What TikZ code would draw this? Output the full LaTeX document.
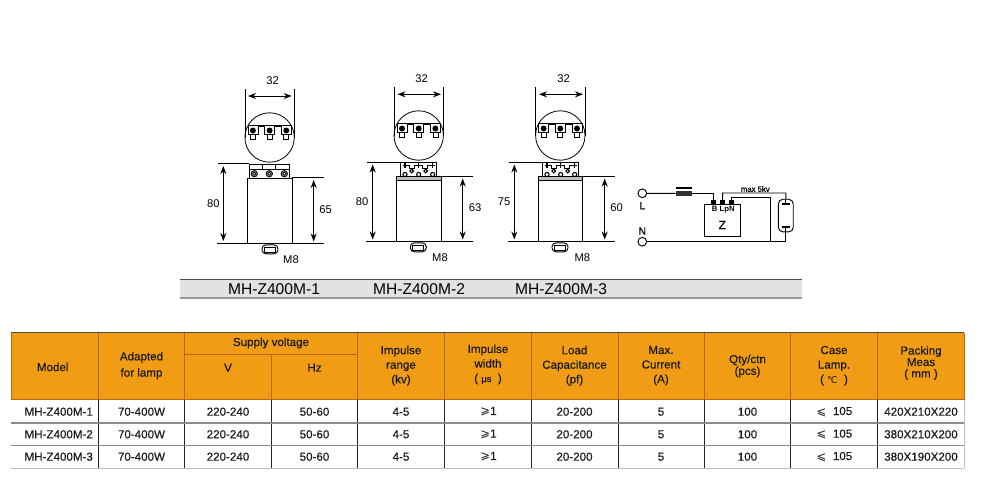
\documentclass[tikz,border=0pt]{standalone}
\usepackage{fontspec}
\setmainfont{Liberation Sans}
\newfontfamily\symfont{DejaVu Sans}
\newfontfamily\softfont[FakeBold=0.35]{Liberation Sans}
\usetikzlibrary{arrows.meta}
\definecolor{headorange}{HTML}{F09C14}
\definecolor{headline}{HTML}{B5690F}
\definecolor{bandgray}{HTML}{E2E2E2}
\definecolor{rowline}{HTML}{8C8C8C}
\tikzset{
  dimline/.style={line width=0.75pt,<->,>={Stealth[length=6pt,width=4.5pt]}},
  extline/.style={line width=0.7pt},
  wire/.style={line width=0.7pt},
  dimtext/.style={font=\fontsize{8.4pt}{10pt}\selectfont,inner sep=0pt},
  bandtext/.style={font=\fontsize{11.7pt}{13pt}\selectfont,inner sep=0pt},
  cell/.style={font=\softfont\fontsize{8.7pt}{10.6pt}\selectfont,align=center,inner sep=0pt,text=black!90},
  headtext/.style={cell,font=\softfont\fontsize{8.7pt}{10.9pt}\selectfont},
  terminal/.style={draw,fill=black,inner sep=0pt,minimum size=3pt},
  pics/lamphead/.style={code={
    \draw[line width=0.6pt] (0,0) circle [radius=24.7];
    \draw[line width=0.8pt] (-17,-11.5) -- (17,-11.5);
    \foreach \tx in {-16.7,0,16.7}{
      \draw[line width=0.6pt,fill=white] (\tx-5,-12) rectangle (\tx+5,-3);
      \fill (\tx,-7) circle [radius=3];
      \draw[line width=0.6pt,fill=white] (\tx-2.5,-3) rectangle (\tx+2.5,2);
    }
  }},
  pics/plaintop/.style={code={
    \draw[line width=0.7pt] (-20,0) rectangle (20,14);
    \draw[line width=0.7pt] (-20,5) -- (20,5);
    \foreach \tx in {-6.5,6.5} \draw[line width=0.6pt] (\tx,0) -- (\tx,5);
    \foreach \tx in {-15,0,15}{
      \draw[line width=0.6pt,fill=black!45] (\tx,9.7) circle [radius=3.2];
      \draw[line width=0.5pt,fill=white] (\tx,9.7) circle [radius=1.6];
    }
  }},
  pics/pcbtop/.style={code={
    \draw[line width=0.6pt] (-18,14) -- (-18,0) -- (18,0) -- (18,14);
    \draw[line width=0.7pt] (-14,3.5) -- (-9,3.5) -- (-9,6.5) -- (-4,6.5) -- (-4,3.5) -- (4,3.5) -- (4,6.5) -- (9,6.5) -- (9,3.5) -- (14,3.5);
    \foreach \tx in {-13.7,0,14}{
      \draw[line width=0.9pt] (\tx-2.2,3.5) -- (\tx+2.2,3.5) (\tx,1.3) -- (\tx,5.7);
      \draw[line width=0.8pt] (\tx,12.5) circle [radius=2.1];
    }
    \foreach \tx in {-7,7} \draw[line width=0.8pt] (\tx,9) circle [radius=1.8];
  }},
  pics/nut/.style={code={
    \draw[line width=0.7pt,rounded corners=3pt] (-8,-4.5) rectangle (8,4.5);
    \draw[line width=0.7pt] (-5.5,-2) rectangle (5.5,3);
  }},
}
\begin{document}
\begin{tikzpicture}[x=0.75pt,y=-0.75pt]
\useasboundingbox (0,0) rectangle (1000,500);

% first ignitor
\draw[wire] (245,89) -- (245,137.5) (294.2,89) -- (294.2,137.5);
\pic at (269.6,137.5) {lamphead};
\pic at (269.3,164) {plaintop};
\draw[wire] (247.5,178) rectangle (292,243.3);
\pic at (270,249.3) {nut};
\coordinate (w1l) at (248,96);
\coordinate (w1r) at (291.7,96);
\coordinate (t1a) at (218.3,163.8);
\coordinate (t1b) at (249.3,163.8);
\coordinate (b1a) at (217.3,243.3);
\coordinate (b1b) at (324,243.3);
\coordinate (m1a) at (292,177.7);
\coordinate (m1b) at (324,177.7);
\draw[extline] (t1a) -- (t1b);
\draw[extline] (b1a) -- (b1b);
\draw[extline] (m1a) -- (m1b);
\draw[dimline] (w1l) -- (w1r);
\draw[dimline] (223.3,166) -- (223.3,241);
\draw[dimline] (313.7,180) -- (313.7,241.5);
\node[dimtext] (w1) at (272.7,80.7) {32};
\node[dimtext] (h1) at (213.3,204) {80};
\node[dimtext] (k1) at (325.7,210) {65};
\node[dimtext] (m1) at (291,259.3) {M8};

% second ignitor
\draw[wire] (394,87) -- (394,135.5) (443.3,87) -- (443.3,135.5);
\pic at (418.7,135.5) {lamphead};
\draw[wire] (396.3,176) rectangle (441,241.7);
\draw[line width=0.6pt,fill=black!25] (396.3,176) rectangle (441,180.5);
\pic at (418.7,162) {pcbtop};
\pic at (418.3,247.3) {nut};
\coordinate (w2l) at (397.5,94.3);
\coordinate (w2r) at (441,94.3);
\coordinate (t2a) at (367.3,162);
\coordinate (t2b) at (400.7,162);
\coordinate (b2a) at (366,241.7);
\coordinate (b2b) at (472.7,241.7);
\coordinate (m2a) at (441,176);
\coordinate (m2b) at (472.7,176);
\draw[extline] (t2a) -- (t2b);
\draw[extline] (b2a) -- (b2b);
\draw[extline] (m2a) -- (m2b);
\draw[dimline] (w2l) -- (w2r);
\draw[dimline] (372.7,164.5) -- (372.7,239.5);
\draw[dimline] (462.7,178.5) -- (462.7,239.5);
\node[dimtext] (w2) at (421.7,79) {32};
\node[dimtext] (h2) at (362,201.7) {80};
\node[dimtext] (k2) at (475,208) {63};
\node[dimtext] (m2) at (440,257.3) {M8};

% third ignitor
\draw[wire] (535.7,87) -- (535.7,135.5) (585,87) -- (585,135.5);
\pic at (560.3,135.5) {lamphead};
\draw[wire] (538.3,176) rectangle (582.7,241.7);
\draw[line width=0.6pt,fill=black!25] (538.3,176) rectangle (582.7,180.5);
\pic at (560.7,162) {pcbtop};
\pic at (560,247.3) {nut};
\coordinate (w3l) at (539,94.3);
\coordinate (w3r) at (583,94.3);
\coordinate (t3a) at (509.3,162);
\coordinate (t3b) at (542.3,162);
\coordinate (b3a) at (508,241.7);
\coordinate (b3b) at (615,241.7);
\coordinate (m3a) at (582.7,176);
\coordinate (m3b) at (615,176);
\draw[extline] (t3a) -- (t3b);
\draw[extline] (b3a) -- (b3b);
\draw[extline] (m3a) -- (m3b);
\draw[dimline] (w3l) -- (w3r);
\draw[dimline] (514.3,164.5) -- (514.3,239.5);
\draw[dimline] (604.7,178.5) -- (604.7,239.5);
\node[dimtext] (w3) at (563.7,79) {32};
\node[dimtext] (h3) at (504,201.7) {75};
\node[dimtext] (k3) at (616.7,208) {60};
\node[dimtext] (m3) at (582.3,257.3) {M8};

% circuit
\node[draw,circle,line width=0.7pt,minimum size=6.5pt,inner sep=0pt] (lin) at (642.3,193.3) {};
\node[draw,circle,line width=0.7pt,minimum size=6.5pt,inner sep=0pt] (nin) at (642.3,241.7) {};
\node[fill=black!80,inner sep=0pt,minimum width=11.7pt,minimum height=3.2pt] (choke) at (683.8,193.5) {};
\coordinate (chokea) at (676,188);
\coordinate (chokeb) at (691.7,188);
\draw[line width=1pt] (chokea) -- (chokeb);
\node[draw,line width=0.7pt,inner sep=0pt,minimum width=27pt,minimum height=23.8pt] (zbox) at (722,220.2) {};
\node[terminal] (tb) at (713.3,202.5) {};
\node[terminal] (tlp) at (722.7,202.5) {};
\node[terminal] (tn) at (731.7,202.5) {};
\node[draw,line width=0.7pt,rounded corners=3.5pt,inner sep=0pt,minimum width=11.2pt,minimum height=24.5pt] (lamp) at (785.8,215.6) {};
\coordinate (nodea) at (770.7,241.7);
\draw[wire] (lin) -- (choke);
\draw[wire] (choke) -| (tb);
\draw[wire] (tlp) |- (786,193) -- (lamp.north);
\draw[wire] (tn) |- (770.7,197.3) -- (nodea);
\draw[wire] (nin) -- (lamp.south |- nin) -- (lamp.south);
\coordinate (ea) at (785.8,204);
\coordinate (eb) at (785.8,227);
\draw[wire] (lamp.north) -- (ea) (lamp.south) -- (eb);
\draw[line width=1pt] (781.5,204) -- (790,204) (781.5,227) -- (790,227);
\node[font=\fontsize{5.8pt}{7pt}\selectfont\bfseries,inner sep=0pt] (pins) at (723.3,209.5) {B\ LpN};
\node[font=\softfont\fontsize{9pt}{11pt}\selectfont,inner sep=0pt] (zlabel) at (722.3,225) {Z};
\node[font=\softfont\fontsize{7.7pt}{10pt}\selectfont,inner sep=0pt] (llabel) at (642.3,205.7) {L};
\node[font=\softfont\fontsize{7.7pt}{10pt}\selectfont,inner sep=0pt] (nlabel) at (642.3,231) {N};
\node[font=\softfont\fontsize{5.8pt}{7pt}\selectfont,inner sep=0pt] (maxv) at (755.3,189) {max 5kv};

% model band
\fill[bandgray] (180,279.5) rectangle (802,298);
\draw[line width=0.9pt,black!70] (180,279.5) -- (802,279.5);
\draw[line width=0.9pt,black!40] (180,298) -- (802,298);
\node[bandtext] (band1) at (274,289) {MH-Z400M-1};
\node[bandtext] (band2) at (419,289) {MH-Z400M-2};
\node[bandtext] (band3) at (561,289) {MH-Z400M-3};

% table
\fill[headorange] (11,332.5) rectangle (964,399.7);
\draw[line width=0.9pt,black!70] (11,332.5) -- (964,332.5);
\draw[line width=0.7pt,headline] (184.5,354.5) -- (357.5,354.5);
\draw[line width=0.7pt,headline] (11,399.7) -- (964,399.7);
\draw[line width=0.7pt,headline] (11,332.5) -- (11,399.7) (964,332.5) -- (964,399.7);
\foreach \cx in {98,184.5,357.5,444.5,531,618,704.5,790.5,877.5}{
  \draw[line width=0.7pt,headline] (\cx,332.5) -- (\cx,399.7);
  \draw[line width=0.7pt,black!85] (\cx,399.7) -- (\cx,468.3);
}
\draw[line width=0.7pt,headline] (271.5,354.5) -- (271.5,399.7);
\draw[line width=0.7pt,black!85] (271.5,399.7) -- (271.5,468.3);
\draw[line width=1pt,rowline] (11,423) -- (964,423);
\draw[line width=1pt,rowline] (11,445.7) -- (964,445.7);
\draw[line width=1pt,black!25] (11,468.3) -- (964,468.3);
\draw[line width=0.5pt,black!25] (964,399.7) -- (964,468.3);

\node[headtext] (hmodel) at (52.7,367) {Model};
\node[headtext,font=\softfont\fontsize{8.7pt}{12.2pt}\selectfont] (hlamp) at (141.5,365.5) {Adapted\\for lamp};
\node[headtext] (hsupply) at (271,343) {Supply voltage};
\node[headtext] (hv) at (228,367.7) {V};
\node[headtext] (hhz) at (314.5,367.7) {Hz};
\node[headtext] (hrange) at (401,365.7) {Impulse\\range\\(kv)};
\node[headtext] (hwidth) at (488,364.5) {Impulse\\width\\( {\fontsize{7pt}{9pt}\selectfont μs} \ )};
\node[headtext] (hload) at (574.5,365.7) {Load\\Capacitance\\(pf)};
\node[headtext] (hmax) at (661,365.7) {Max.\\Current\\(A)};
\node[headtext,font=\softfont\fontsize{8.7pt}{8.8pt}\selectfont] (hqty) at (747.5,366) {Qty/ctn\\(pcs)};
\node[headtext] (hcase) at (834,365.7) {Case\\Lamp.\\( {\symfont\fontsize{7pt}{9pt}\selectfont ℃} \ )};
\node[headtext,font=\softfont\fontsize{8.7pt}{8.6pt}\selectfont] (hpack) at (921,363) {Packing\\Meas\\( mm )};

\foreach \r/\y/\mdl/\meas in {1/411.7/MH-Z400M-1/420X210X220,2/434.3/MH-Z400M-2/380X210X200,3/456.7/MH-Z400M-3/380X190X200}{
  \node[cell] (model\r) at (58.7,\y) {\mdl};
  \node[cell] (lamp\r) at (141.5,\y) {70-400W};
  \node[cell] (volt\r) at (228,\y) {220-240};
  \node[cell] (freq\r) at (314.5,\y) {50-60};
  \node[cell] (range\r) at (401,\y) {4-5};
  \node[cell] (width\r) at (488.5,\y) {{\symfont ⩾}1};
  \node[cell] (load\r) at (574.5,\y) {20-200};
  \node[cell] (curr\r) at (661,\y) {5};
  \node[cell] (qty\r) at (747.5,\y) {100};
  \node[cell] (temp\r) at (834.5,\y) {{\symfont ⩽}\ \ 105};
  \node[cell] (meas\r) at (921,\y) {\meas};
}
\end{tikzpicture}
\end{document}
